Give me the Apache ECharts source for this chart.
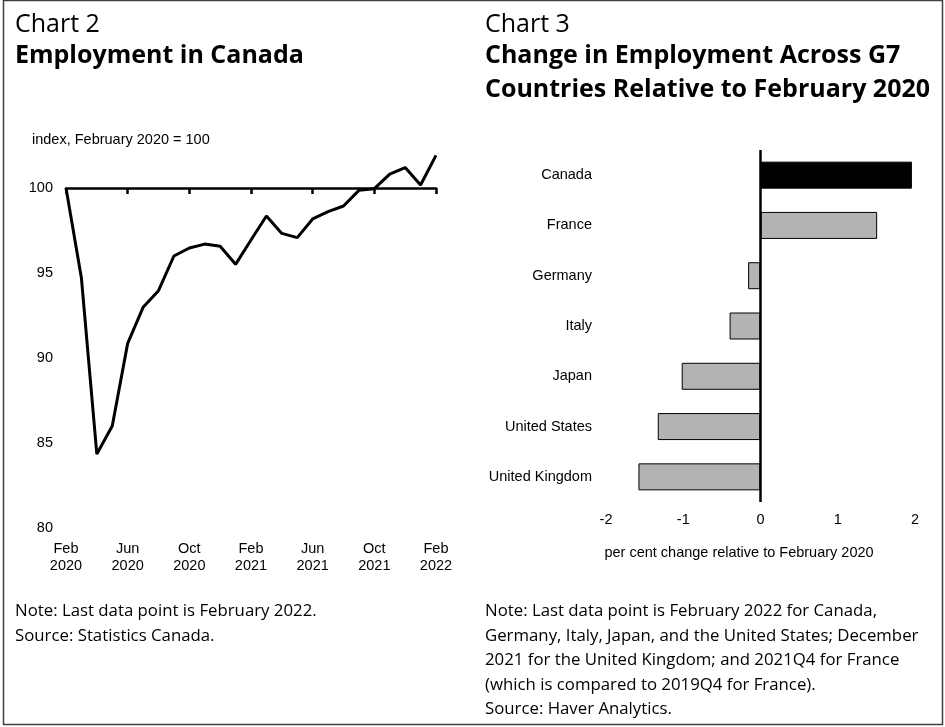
<!DOCTYPE html>
<html>
<head>
<meta charset="utf-8">
<script src="https://cdn.jsdelivr.net/npm/echarts@6/dist/echarts.min.js"></script>
<style>
  html, body { margin: 0; padding: 0; background: #fff; }
  #chart { width: 945px; height: 727px; }
</style>
</head>
<body>
<div id="chart"></div>
<script>
// Chart 2: monthly employment index (February 2020 = 100)
var months = [
  'Feb 2020', 'Mar 2020', 'Apr 2020', 'May 2020', 'Jun 2020', 'Jul 2020', 'Aug 2020',
  'Sep 2020', 'Oct 2020', 'Nov 2020', 'Dec 2020', 'Jan 2021', 'Feb 2021', 'Mar 2021',
  'Apr 2021', 'May 2021', 'Jun 2021', 'Jul 2021', 'Aug 2021', 'Sep 2021', 'Oct 2021',
  'Nov 2021', 'Dec 2021', 'Jan 2022', 'Feb 2022'
];
var employmentIndex = [
  100.0, 94.7, 84.35, 86.0, 90.86, 92.98, 93.96,
  96.0, 96.47, 96.7, 96.57, 95.51, 96.94, 98.35,
  97.33, 97.08, 98.18, 98.61, 98.94, 99.86, 99.96,
  100.82, 101.2, 100.18, 101.92
];
var indexTicks = [80, 85, 90, 95, 100];

// Chart 3: per cent change in employment relative to February 2020
var countries = ['Canada', 'France', 'Germany', 'Italy', 'Japan', 'United States', 'United Kingdom'];
var employmentChange = [1.96, 1.51, -0.16, -0.40, -1.02, -1.33, -1.58];
var changeTicks = [-2, -1, 0, 1, 2];

var labelFont = '"Liberation Sans", Arial, sans-serif';
var textFont = '"Open Sans", "Noto Sans", sans-serif';

var chart = echarts.init(document.getElementById('chart'), null, { renderer: 'canvas' });

var yMin = indexTicks[0], yMax = 102;
var grid0 = { left: 66, right: 509, top: 154, bottom: 199 };
var gridH = 727 - grid0.top - grid0.bottom;
// pixel distance from the top of the plot down to the 100 line
var baseOffset = -Math.round((yMax - 100) / (yMax - yMin) * gridH);

var barData = employmentChange.map(function (v, i) {
  return {
    value: v,
    itemStyle: i === 0
      ? { color: '#000000', borderColor: '#000000', borderWidth: 1 }
      : { color: '#b3b3b3', borderColor: '#000000', borderWidth: 1 }
  };
});

var option = {
  backgroundColor: '#ffffff',
  animation: false,
  grid: [
    grid0,
    { left: 606, right: 30, top: 150, bottom: 225 }
  ],
  xAxis: [
    {
      gridIndex: 0, type: 'category', data: months, boundaryGap: false,
      axisLine: { show: false }, axisTick: { show: false },
      axisLabel: {
        interval: 3, margin: 12, color: '#000', fontFamily: labelFont, fontSize: 14.5,
        lineHeight: 17,
        formatter: function (v) { return v.replace(' ', '\n'); }
      },
      splitLine: { show: false }
    },
    {
      gridIndex: 0, type: 'category', data: months, boundaryGap: false,
      position: 'top', offset: baseOffset,
      axisLine: { show: true, lineStyle: { color: '#000', width: 2.5 } },
      axisTick: { show: true, inside: true, interval: 3, length: 6, lineStyle: { color: '#000', width: 2.5 } },
      axisLabel: { show: false },
      splitLine: { show: false }
    },
    {
      gridIndex: 1, type: 'value', min: changeTicks[0], max: changeTicks[changeTicks.length - 1], interval: 1,
      axisLine: { show: false }, axisTick: { show: false }, splitLine: { show: false },
      axisLabel: { margin: 10, color: '#000', fontFamily: labelFont, fontSize: 14.5 }
    }
  ],
  yAxis: [
    {
      gridIndex: 0, type: 'value', min: yMin, max: yMax, interval: 5,
      axisLine: { show: false }, axisTick: { show: false }, splitLine: { show: false },
      axisLabel: {
        margin: 13, color: '#000', fontFamily: labelFont, fontSize: 14.5,
        formatter: function (v) { return indexTicks.indexOf(v) >= 0 ? String(v) : ''; }
      }
    },
    {
      gridIndex: 1, type: 'category', data: countries, inverse: true,
      axisLine: { show: false, onZero: false }, axisTick: { show: false },
      axisLabel: { margin: 14, color: '#000', fontFamily: labelFont, fontSize: 14.5 }
    }
  ],
  series: [
    {
      type: 'line', xAxisIndex: 0, yAxisIndex: 0, data: employmentIndex,
      symbol: 'none', lineStyle: { color: '#000', width: 3 }
    },
    {
      type: 'bar', xAxisIndex: 2, yAxisIndex: 1, data: barData, barWidth: 27,
      markLine: {
        silent: true, symbol: 'none', label: { show: false },
        lineStyle: { color: '#000', width: 2.5, type: 'solid' },
        data: [{ xAxis: 0 }]
      }
    }
  ],
  graphic: [
    { type: 'rect', shape: { x: 3.5, y: 0.5, width: 939, height: 724 },
      style: { fill: 'none', stroke: '#404040', lineWidth: 1.5 }, silent: true },
    { type: 'text', left: 15, top: 12, style: { text: 'Chart 2', font: '25px ' + textFont, fill: '#000' } },
    { type: 'text', left: 15, top: 43, style: { text: 'Employment in Canada', font: 'bold 25px ' + textFont, fill: '#000' } },
    { type: 'text', left: 485, top: 12, style: { text: 'Chart 3', font: '25px ' + textFont, fill: '#000' } },
    { type: 'text', left: 485, top: 43, style: { text: 'Change in Employment Across G7', font: 'bold 25px ' + textFont, fill: '#000' } },
    { type: 'text', left: 485, top: 77, style: { text: 'Countries Relative to February 2020', font: 'bold 25px ' + textFont, fill: '#000' } },
    { type: 'text', left: 32, top: 132, style: { text: 'index, February 2020 = 100', font: '14.5px ' + labelFont, fill: '#000' } },
    { type: 'text', x: 739, y: 553, style: { text: 'per cent change relative to February 2020', font: '14.5px ' + labelFont, fill: '#000', align: 'center', verticalAlign: 'middle' } },
    { type: 'text', left: 15, top: 599, style: { text: 'Note: Last data point is February 2022.\nSource: Statistics Canada.', font: '16.8px ' + textFont, fill: '#000', lineHeight: 24.5 } },
    { type: 'text', left: 485, top: 599, style: {
      text: 'Note: Last data point is February 2022 for Canada,\nGermany, Italy, Japan, and the United States; December\n2021 for the United Kingdom; and 2021Q4 for France\n(which is compared to 2019Q4 for France).\nSource: Haver Analytics.',
      font: '16.8px ' + textFont, fill: '#000', lineHeight: 24.5 } }
  ]
};

chart.setOption(option);
</script>
</body>
</html>
